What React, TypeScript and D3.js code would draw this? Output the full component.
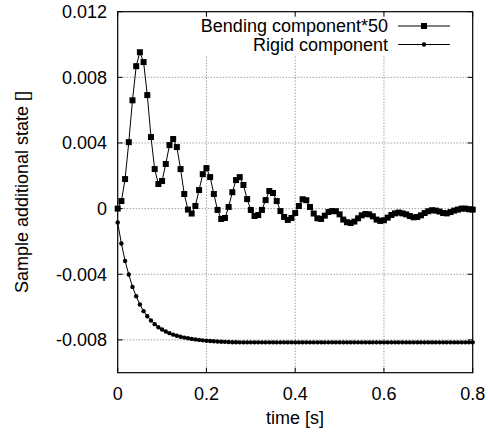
import React from "react";
import * as d3 from "d3";

const dt = 1 / 120;

const bending: number[] = [
  0, 0.00046, 0.0018, 0.00405, 0.0066, 0.00868, 0.00953, 0.00893, 0.00692, 0.00436,
  0.00241, 0.0015, 0.00168, 0.00272, 0.00387, 0.00424, 0.00375, 0.00241, 0.00089, -0.00006,
  -0.0003, 0.00016, 0.00113, 0.0021, 0.00247, 0.00192, 0.00089, -0.00008, -0.00063, -0.00057,
  0.0001, 0.001, 0.00174, 0.00192, 0.00144, 0.00058, -0.00008, -0.00045, -0.00039, -0.00008,
  0.00052, 0.00107, 0.00095, 0.00046, -0.00015, -0.00051, -0.00069, -0.00057, -0.00027, 0.00016,
  0.00057, 0.00051, 0.0001, -0.0003, -0.00059, -0.00063, -0.00043, -0.00021, -0.00015, -0.00016,
  -0.00035, -0.00067, -0.00083, -0.00088, -0.00079, -0.00059, -0.00041, -0.00033, -0.00035, -0.00047,
  -0.00067, -0.00075, -0.00071, -0.00055, -0.00039, -0.00029, -0.00024, -0.00029, -0.00035, -0.00045,
  -0.00053, -0.00051, -0.00041, -0.00027, -0.00016, -0.0001, -0.00012, -0.00018, -0.00027, -0.00029,
  -0.00021, -0.00012, -0.00006, 0, 0, -0.00004, -0.00006,
];

const rigid: number[] = [
  -0.00085, -0.00213, -0.00319, -0.00402, -0.00477, -0.00534, -0.00584, -0.00625, -0.00656, -0.00682,
  -0.00704, -0.00723, -0.00737, -0.00749, -0.00759, -0.00768, -0.00775, -0.00781, -0.00786, -0.0079,
  -0.00794, -0.00797, -0.008, -0.00803, -0.00805, -0.00807, -0.00808, -0.0081, -0.00811, -0.00812,
  -0.00813, -0.00814, -0.00814, -0.00815, -0.00815, -0.00815, -0.00815, -0.00815, -0.00815, -0.00815,
  -0.00815, -0.00815, -0.00815, -0.00815, -0.00815, -0.00815, -0.00815, -0.00815, -0.00815, -0.00815,
  -0.00815, -0.00815, -0.00815, -0.00815, -0.00815, -0.00815, -0.00815, -0.00815, -0.00815, -0.00815,
  -0.00815, -0.00815, -0.00815, -0.00815, -0.00815, -0.00815, -0.00815, -0.00815, -0.00815, -0.00815,
  -0.00815, -0.00815, -0.00815, -0.00815, -0.00815, -0.00815, -0.00815, -0.00815, -0.00815, -0.00815,
  -0.00815, -0.00815, -0.00815, -0.00815, -0.00815, -0.00815, -0.00815, -0.00815, -0.00815, -0.00815,
  -0.00815, -0.00815, -0.00815, -0.00815, -0.00815, -0.00815, -0.00815,
];

const xTicks = [0, 0.2, 0.4, 0.6, 0.8];
const xTickLabels = ["0", "0.2", "0.4", "0.6", "0.8"];
const yTicks = [0.012, 0.008, 0.004, 0, -0.004, -0.008];
const yTickLabels = ["0.012", "0.008", "0.004", "0", "-0.004", "-0.008"];
const seriesNames = ["Bending component*50", "Rigid component"];
const xTitle = "time [s]";
const yTitle = "Sample additional state []";

const W = 488;
const H = 433;
const L = 117.7;
const R = 472.7;
const T = 11.7;
const B = 372.7;
const FONT = "'Liberation Sans', Arial, Helvetica, sans-serif";

export default function App() {
  const x = d3.scaleLinear().domain([0, 0.8]).range([L, R]);
  const y = d3.scaleLinear().domain([-0.01, 0.012]).range([B, T]);
  const line = d3
    .line<number>()
    .x((_, i) => x(i * dt))
    .y((d) => y(d));

  const leg1 = 26;
  const leg2 = 44.5;
  const gridColor = "#777";

  return (
    <svg
      width={W}
      height={H}
      style={{ position: "absolute", left: 0, top: 0, background: "#fff" }}
      fontFamily={FONT}
    >
      <rect x={0} y={0} width={W} height={H} fill="#fff" />
      {/* grid */}
      {xTicks.slice(1, -1).map((t) => (
        <line
          key={"gx" + t}
          x1={x(t)}
          x2={x(t)}
          y1={B}
          y2={T}
          stroke={gridColor}
          strokeWidth={1}
          strokeDasharray="1,2"
        />
      ))}
      {yTicks.slice(1).map((t) => (
        <line
          key={"gy" + t}
          x1={L}
          x2={R}
          y1={y(t)}
          y2={y(t)}
          stroke={gridColor}
          strokeWidth={1}
          strokeDasharray="1,2"
        />
      ))}
      {/* key background */}
      <rect x={190} y={T + 1} width={R - 191} height={55 - T - 1} fill="#fff" />
      {/* ticks */}
      {xTicks.map((t) => (
        <g key={"tx" + t}>
          <line x1={x(t)} x2={x(t)} y1={B} y2={B - 5} stroke="#000" />
          <line x1={x(t)} x2={x(t)} y1={T} y2={T + 5} stroke="#000" />
        </g>
      ))}
      {yTicks.map((t) => (
        <g key={"ty" + t}>
          <line x1={L} x2={L + 5} y1={y(t)} y2={y(t)} stroke="#000" />
          <line x1={R} x2={R - 5} y1={y(t)} y2={y(t)} stroke="#000" />
        </g>
      ))}
      {/* series */}
      <path d={line(bending) || ""} fill="none" stroke="#000" strokeWidth={1} />
      {bending.map((v, i) => (
        <rect key={"b" + i} x={x(i * dt) - 3} y={y(v) - 3} width={6} height={6} fill="#000" />
      ))}
      <path d={line(rigid) || ""} fill="none" stroke="#000" strokeWidth={1} />
      {rigid.map((v, i) => (
        <circle key={"r" + i} cx={x(i * dt)} cy={y(v)} r={2.2} fill="#000" />
      ))}
      {/* border */}
      <rect x={L} y={T} width={R - L} height={B - T} fill="none" stroke="#000" strokeWidth={1.2} />
      {/* tick labels */}
      {xTicks.map((t, i) => (
        <text key={"lx" + t} x={x(t)} y={399.5} fontSize={18} textAnchor="middle" fill="#000">
          {xTickLabels[i]}
        </text>
      ))}
      {yTicks.map((t, i) => (
        <text key={"ly" + t} x={107} y={y(t) + 6.4} fontSize={18} textAnchor="end" fill="#000">
          {yTickLabels[i]}
        </text>
      ))}
      {/* titles */}
      <text x={295} y={424} fontSize={18} textAnchor="middle" fill="#000">
        {xTitle}
      </text>
      <text
        transform={`translate(28,192) rotate(-90)`}
        fontSize={18}
        textAnchor="middle"
        fill="#000"
      >
        {yTitle}
      </text>
      {/* legend */}
      <text x={388} y={leg1 + 6.4} fontSize={18} textAnchor="end" fill="#000">
        {seriesNames[0]}
      </text>
      <line x1={398} x2={450} y1={leg1} y2={leg1} stroke="#000" />
      <rect x={421} y={leg1 - 3} width={6} height={6} fill="#000" />
      <text x={388} y={leg2 + 6.4} fontSize={18} textAnchor="end" fill="#000">
        {seriesNames[1]}
      </text>
      <line x1={398} x2={450} y1={leg2} y2={leg2} stroke="#000" />
      <circle cx={424} cy={leg2} r={2.2} fill="#000" />
    </svg>
  );
}
